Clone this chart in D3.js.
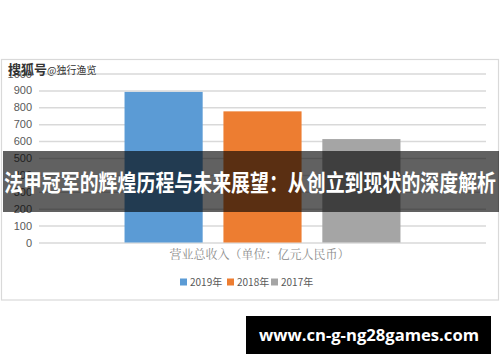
<!DOCTYPE html>
<html>
<head>
<meta charset="utf-8">
<script src="https://cdn.jsdelivr.net/npm/d3@7"></script>
<style>
  html, body { margin: 0; padding: 0; background: #fff; }
  svg { display: block; font-family: "Noto Sans CJK SC", "Noto Sans", sans-serif; }
</style>
</head>
<body>
<div class="chart"></div>
<script>
// chart data
const categories = ['营业总收入（单位：亿元人民币）'];
const seriesNames = ['2019年', '2018年', '2017年'];
const seriesValues = [891, 776, 612];
const seriesColors = ['#5b9bd5', '#ed7d31', '#a5a5a5'];
const yTicks = [0, 100, 200, 300, 400, 500, 600, 700, 800, 900, 1000];

const width = 500, height = 362;
const margin = {top: 73.5, right: 14, bottom: 119.5, left: 39};

const svg = d3.select('.chart').append('svg')
  .attr('width', width)
  .attr('height', height);

// chart frame
svg.append('rect')
  .attr('x', 1.5).attr('y', 59.5)
  .attr('width', 497).attr('height', 240.5)
  .attr('fill', '#fff')
  .attr('stroke', '#d9d9d9')
  .attr('stroke-width', 1.2);

const x0 = d3.scaleBand()
  .domain(categories)
  .range([margin.left, width - margin.right])
  .paddingInner(0)
  .paddingOuter(0.31);

const x1 = d3.scaleBand()
  .domain(seriesNames)
  .range([0, x0.bandwidth()])
  .paddingInner(0.21)
  .paddingOuter(0);

const y = d3.scaleLinear()
  .domain([0, 1000])
  .range([height - margin.bottom, margin.top]);

// gridlines + labels
const yAxis = d3.axisLeft(y)
  .tickValues(yTicks)
  .tickSize(-(width - margin.left - margin.right))
  .tickPadding(7)
  .tickFormat(d3.format('d'));

const gy = svg.append('g')
  .attr('transform', 'translate(' + margin.left + ',0)')
  .call(yAxis);
gy.select('.domain').remove();
gy.selectAll('.tick line')
  .attr('stroke', '#d9d9d9')
  .attr('stroke-width', 1.5);
gy.selectAll('.tick text')
  .attr('fill', '#595959')
  .attr('font-size', 11)
  .attr('font-family', '"Liberation Sans", Arial, sans-serif');

// bars
const group = svg.selectAll('.grp')
  .data(categories)
  .enter().append('g')
  .attr('class', 'grp')
  .attr('transform', function(d) { return 'translate(' + x0(d) + ',0)'; });

group.selectAll('.bar')
  .data(seriesNames.map(function(s, i) { return {name: s, value: seriesValues[i], color: seriesColors[i]}; }))
  .enter().append('rect')
  .attr('class', 'bar')
  .attr('x', function(d) { return x1(d.name); })
  .attr('width', x1.bandwidth())
  .attr('y', function(d) { return y(d.value); })
  .attr('height', function(d) { return y(0) - y(d.value); })
  .attr('fill', function(d) { return d.color; });

// axis title
svg.append('text')
  .attr('x', x0(categories[0]) + x0.bandwidth() / 2 - 3)
  .attr('y', 259)
  .attr('text-anchor', 'middle')
  .attr('fill', '#8c8c8c')
  .attr('font-size', 12)
  .attr('font-family', '"Noto Serif CJK SC", "Noto Sans CJK SC", serif')
  .text(categories[0]);

// legend
const legendX = [180, 227, 271];
const legend = svg.selectAll('.lg')
  .data(seriesNames)
  .enter().append('g')
  .attr('class', 'lg')
  .attr('transform', function(d, i) { return 'translate(' + legendX[i] + ',282)'; });
legend.append('rect')
  .attr('x', 0).attr('y', -3.5)
  .attr('width', 7).attr('height', 7)
  .attr('fill', function(d, i) { return seriesColors[i]; });
legend.append('text')
  .attr('x', 10).attr('y', 4)
  .attr('fill', '#595959')
  .attr('font-size', 10)
  .text(function(d) { return d; });

// watermark
const wm = svg.append('text')
  .attr('x', 8).attr('y', 74)
  .attr('fill', '#333');
wm.append('tspan').attr('font-size', 13).attr('font-weight', 'bold').text('搜狐号');
wm.append('tspan').attr('font-size', 10).text('@独行渔览');

// headline band
svg.append('rect')
  .attr('x', 3).attr('y', 151)
  .attr('width', 496).attr('height', 61)
  .attr('fill', 'rgba(0,0,0,0.62)');
svg.append('text')
  .attr('x', 250).attr('y', 191)
  .attr('text-anchor', 'middle')
  .attr('fill', '#fff')
  .attr('font-size', 23)
  .attr('font-weight', 'bold')
  .attr('textLength', 492)
  .attr('lengthAdjust', 'spacingAndGlyphs')
  .text('法甲冠军的辉煌历程与未来展望：从创立到现状的深度解析');

// site box
svg.append('rect')
  .attr('x', 246).attr('y', 316)
  .attr('width', 245).attr('height', 38)
  .attr('fill', '#000');
svg.append('text')
  .attr('x', 369).attr('y', 341)
  .attr('text-anchor', 'middle')
  .attr('fill', '#fff')
  .attr('font-size', 16)
  .attr('font-weight', 'bold')
  .attr('font-family', '"Open Sans", "DejaVu Sans", sans-serif')
  .attr('textLength', 220)
  .attr('lengthAdjust', 'spacingAndGlyphs')
  .text('www.cn-g-ng28games.com');
</script>
</body>
</html>
